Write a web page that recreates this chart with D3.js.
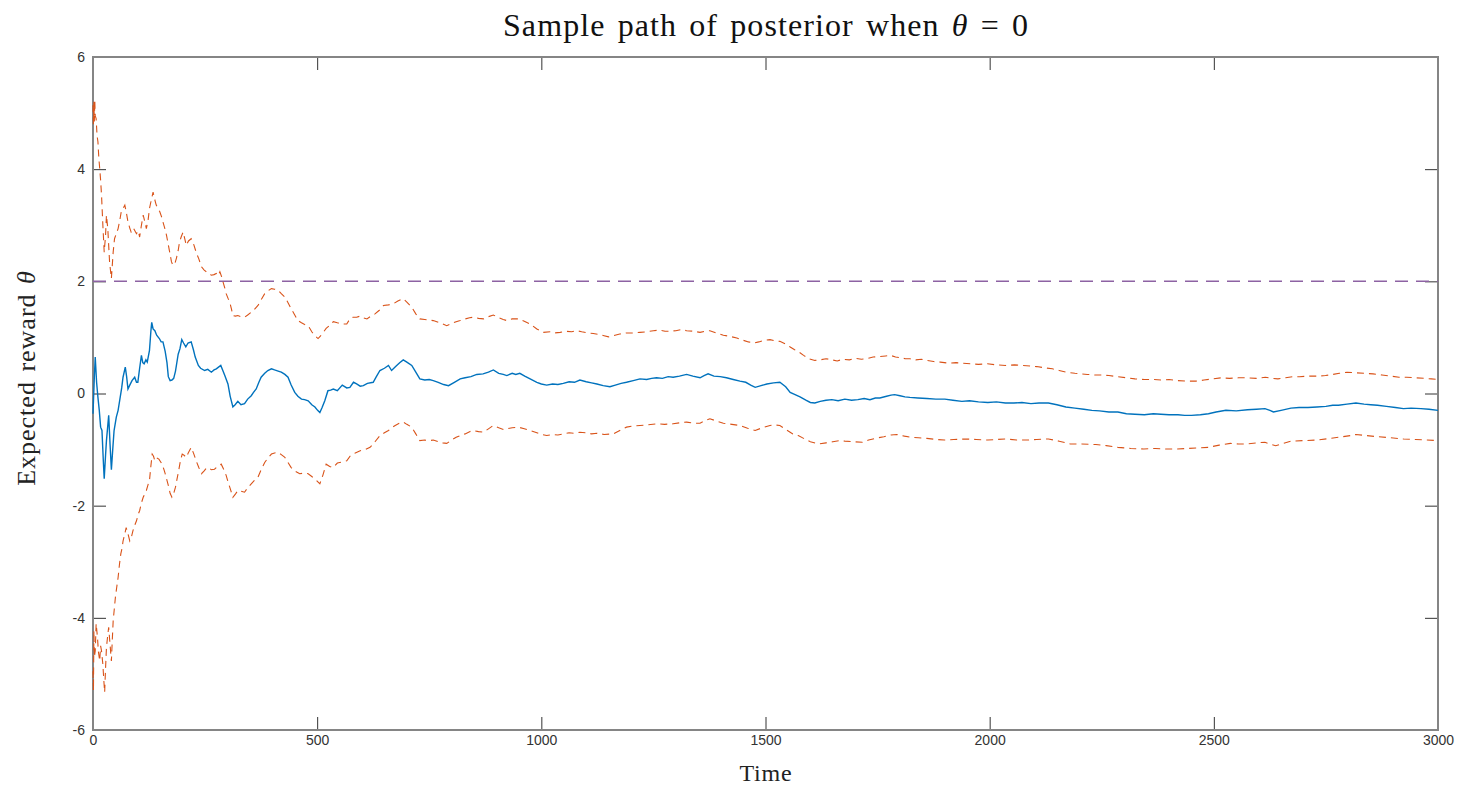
<!DOCTYPE html>
<html>
<head>
<meta charset="utf-8">
<script src="https://cdn.jsdelivr.net/npm/d3@7"></script>
<style>
  body { margin: 0; background: #fff; }
  .tick text { font-family: "Liberation Sans", Arial, sans-serif; font-size: 14px; fill: #333; }
</style>
</head>
<body>
<div id="chart"></div>
<script>
// values: [time, value]
var posteriorMean = [[0,-0.36],[3,0.3],[5,0.65],[8,0.2],[11,-0.07],[14,-0.3],[17,-0.6],[20,-0.66],[23,-1.2],[25,-1.52],[28,-1.1],[30,-0.84],[35,-0.39],[38,-0.9],[41,-1.36],[44,-1.0],[47,-0.66],[52,-0.42],[56,-0.3],[60,-0.1],[64,0.1],[67,0.29],[72,0.47],[75,0.3],[78,0.08],[82,0.15],[87,0.23],[93,0.29],[97,0.2],[100,0.2],[104,0.45],[108,0.68],[111,0.55],[114,0.53],[118,0.6],[121,0.56],[126,0.77],[129,1.1],[131,1.27],[134,1.15],[138,1.12],[142,1.04],[148,0.98],[152,0.92],[156,0.92],[161,0.75],[165,0.55],[168,0.3],[172,0.23],[176,0.24],[180,0.27],[184,0.4],[190,0.7],[194,0.8],[198,0.96],[202,0.9],[207,0.83],[212,0.9],[219,0.92],[224,0.78],[228,0.65],[235,0.5],[240,0.45],[249,0.41],[256,0.43],[264,0.38],[270,0.42],[275,0.44],[280,0.47],[285,0.5],[290,0.4],[294,0.32],[301,0.17],[306,-0.05],[312,-0.24],[317,-0.2],[323,-0.14],[330,-0.2],[338,-0.18],[345,-0.1],[353,-0.04],[358,0.02],[364,0.08],[370,0.2],[375,0.29],[383,0.36],[390,0.41],[398,0.44],[405,0.42],[413,0.4],[420,0.38],[428,0.34],[435,0.29],[442,0.15],[450,0.02],[457,-0.05],[465,-0.1],[472,-0.11],[480,-0.13],[488,-0.2],[495,-0.24],[501,-0.3],[506,-0.34],[511,-0.25],[517,-0.13],[524,0.05],[530,0.06],[536,0.08],[545,0.05],[556,0.15],[566,0.1],[573,0.11],[581,0.2],[588,0.17],[596,0.13],[603,0.14],[612,0.18],[625,0.2],[632,0.3],[640,0.41],[650,0.45],[659,0.5],[666,0.41],[675,0.48],[684,0.55],[692,0.6],[700,0.56],[711,0.5],[720,0.38],[729,0.26],[740,0.24],[750,0.25],[759,0.23],[770,0.2],[782,0.16],[793,0.14],[806,0.2],[819,0.26],[830,0.28],[843,0.3],[856,0.34],[870,0.35],[882,0.38],[893,0.42],[905,0.36],[915,0.34],[923,0.32],[935,0.36],[943,0.34],[952,0.36],[963,0.31],[975,0.26],[990,0.2],[1000,0.17],[1012,0.15],[1025,0.17],[1037,0.16],[1049,0.18],[1062,0.21],[1074,0.2],[1086,0.24],[1100,0.21],[1112,0.19],[1124,0.17],[1138,0.14],[1153,0.12],[1165,0.15],[1178,0.18],[1190,0.2],[1205,0.23],[1220,0.26],[1235,0.25],[1246,0.27],[1257,0.28],[1270,0.27],[1283,0.3],[1294,0.29],[1308,0.31],[1324,0.34],[1338,0.31],[1354,0.28],[1363,0.32],[1372,0.35],[1385,0.31],[1399,0.3],[1413,0.28],[1428,0.25],[1443,0.22],[1456,0.2],[1467,0.15],[1477,0.11],[1490,0.14],[1503,0.17],[1518,0.19],[1532,0.2],[1545,0.12],[1555,0.02],[1566,-0.02],[1577,-0.06],[1590,-0.12],[1600,-0.16],[1610,-0.17],[1622,-0.14],[1635,-0.12],[1648,-0.11],[1662,-0.13],[1677,-0.1],[1692,-0.12],[1706,-0.11],[1720,-0.09],[1733,-0.11],[1745,-0.08],[1755,-0.08],[1770,-0.05],[1780,-0.03],[1788,-0.02],[1800,-0.04],[1811,-0.06],[1822,-0.07],[1840,-0.08],[1860,-0.09],[1880,-0.1],[1900,-0.1],[1918,-0.12],[1938,-0.14],[1955,-0.13],[1975,-0.15],[1996,-0.16],[2015,-0.15],[2035,-0.17],[2054,-0.17],[2072,-0.16],[2092,-0.18],[2110,-0.17],[2131,-0.17],[2150,-0.2],[2170,-0.24],[2190,-0.26],[2210,-0.28],[2228,-0.3],[2245,-0.31],[2266,-0.33],[2286,-0.33],[2305,-0.36],[2324,-0.37],[2345,-0.38],[2365,-0.36],[2382,-0.37],[2400,-0.38],[2420,-0.38],[2435,-0.39],[2450,-0.39],[2470,-0.38],[2488,-0.36],[2505,-0.33],[2527,-0.3],[2550,-0.31],[2575,-0.29],[2595,-0.28],[2614,-0.27],[2625,-0.3],[2633,-0.33],[2650,-0.3],[2672,-0.26],[2690,-0.25],[2710,-0.25],[2730,-0.24],[2750,-0.23],[2765,-0.21],[2778,-0.21],[2797,-0.19],[2817,-0.17],[2835,-0.19],[2850,-0.2],[2865,-0.21],[2885,-0.23],[2905,-0.25],[2923,-0.27],[2940,-0.26],[2962,-0.27],[2980,-0.28],[3000,-0.3]];

var upperBound = [[0,5.14],[1,4.8],[2,5.2],[3,4.85],[4,5.23],[5,4.95],[7,4.9],[9,4.6],[11,4.49],[13,4.2],[15,4.01],[17,3.8],[19,3.54],[22,3.0],[25,2.52],[28,2.82],[30,3.18],[33,2.94],[37,2.34],[41,2.05],[45,2.52],[48,2.76],[52,2.85],[56,2.94],[60,3.1],[63,3.24],[67,3.3],[71,3.36],[75,3.2],[78,3.06],[82,2.95],[85,2.88],[90,2.95],[97,2.85],[101,2.9],[104,2.79],[108,3.0],[112,3.18],[116,3.05],[119,2.94],[123,3.1],[126,3.3],[130,3.45],[134,3.59],[138,3.45],[141,3.36],[145,3.3],[149,3.24],[153,3.15],[156,3.06],[160,2.95],[164,2.82],[168,2.65],[171,2.52],[175,2.35],[178,2.29],[182,2.3],[186,2.41],[190,2.55],[193,2.7],[197,2.8],[201,2.88],[205,2.75],[208,2.64],[213,2.72],[219,2.76],[225,2.65],[230,2.52],[236,2.4],[242,2.26],[248,2.2],[253,2.17],[258,2.14],[264,2.11],[270,2.12],[275,2.14],[279,2.1],[283,2.17],[287,2.08],[290,1.99],[294,1.88],[297,1.78],[301,1.7],[305,1.63],[309,1.5],[312,1.39],[318,1.38],[323,1.39],[330,1.37],[338,1.36],[345,1.4],[353,1.45],[360,1.5],[368,1.57],[375,1.67],[383,1.78],[390,1.83],[398,1.87],[405,1.86],[413,1.84],[420,1.78],[428,1.72],[435,1.62],[442,1.51],[450,1.4],[457,1.3],[465,1.26],[472,1.23],[480,1.21],[488,1.1],[495,1.03],[502,0.98],[510,1.05],[520,1.16],[529,1.22],[536,1.28],[545,1.26],[556,1.24],[566,1.24],[573,1.33],[580,1.36],[588,1.36],[596,1.38],[603,1.35],[611,1.33],[620,1.38],[629,1.42],[638,1.48],[648,1.57],[659,1.58],[670,1.6],[680,1.65],[692,1.69],[700,1.63],[711,1.54],[720,1.42],[729,1.33],[740,1.32],[750,1.31],[759,1.3],[770,1.27],[780,1.24],[789,1.21],[800,1.25],[810,1.28],[819,1.3],[830,1.33],[840,1.35],[848,1.36],[860,1.34],[871,1.33],[882,1.37],[893,1.4],[905,1.35],[915,1.32],[923,1.3],[935,1.33],[949,1.33],[962,1.29],[975,1.24],[990,1.15],[1004,1.09],[1020,1.1],[1030,1.08],[1042,1.09],[1055,1.11],[1068,1.1],[1079,1.12],[1090,1.1],[1104,1.08],[1116,1.07],[1130,1.05],[1140,1.03],[1150,1.01],[1160,1.03],[1175,1.06],[1190,1.08],[1205,1.08],[1220,1.09],[1235,1.1],[1250,1.12],[1265,1.13],[1276,1.11],[1287,1.11],[1300,1.12],[1312,1.14],[1324,1.12],[1340,1.11],[1354,1.09],[1366,1.11],[1376,1.12],[1390,1.08],[1406,1.04],[1420,1.02],[1436,0.99],[1450,0.95],[1462,0.92],[1473,0.9],[1485,0.92],[1497,0.95],[1510,0.96],[1520,0.94],[1532,0.93],[1545,0.88],[1555,0.83],[1565,0.78],[1573,0.75],[1585,0.68],[1597,0.62],[1610,0.59],[1622,0.6],[1635,0.62],[1648,0.6],[1660,0.58],[1672,0.61],[1687,0.6],[1700,0.63],[1714,0.61],[1726,0.62],[1740,0.65],[1755,0.66],[1768,0.67],[1779,0.68],[1790,0.65],[1800,0.64],[1812,0.62],[1822,0.62],[1835,0.6],[1848,0.61],[1861,0.59],[1875,0.57],[1890,0.56],[1909,0.54],[1925,0.55],[1940,0.54],[1957,0.53],[1975,0.52],[1995,0.53],[2015,0.51],[2035,0.5],[2055,0.51],[2073,0.5],[2090,0.49],[2105,0.48],[2121,0.46],[2140,0.44],[2155,0.41],[2170,0.38],[2190,0.36],[2205,0.35],[2218,0.34],[2235,0.33],[2250,0.33],[2266,0.32],[2285,0.3],[2305,0.28],[2324,0.26],[2345,0.25],[2365,0.25],[2382,0.24],[2400,0.25],[2420,0.23],[2440,0.22],[2460,0.22],[2478,0.24],[2497,0.26],[2517,0.28],[2535,0.27],[2555,0.28],[2575,0.28],[2595,0.27],[2615,0.29],[2630,0.27],[2643,0.26],[2660,0.28],[2676,0.3],[2691,0.3],[2710,0.31],[2730,0.31],[2749,0.32],[2765,0.34],[2780,0.36],[2797,0.38],[2815,0.37],[2835,0.36],[2855,0.35],[2875,0.33],[2895,0.31],[2913,0.29],[2930,0.29],[2951,0.28],[2970,0.27],[2985,0.26],[3000,0.25]];

var lowerBound = [[0,-4.95],[1,-5.3],[2,-4.23],[3,-4.7],[5,-4.59],[7,-4.1],[10,-4.35],[12,-4.6],[15,-4.77],[17,-4.5],[19,-4.59],[22,-4.83],[24,-5.1],[26,-5.33],[28,-4.9],[30,-4.53],[33,-4.3],[35,-4.17],[38,-4.47],[41,-4.77],[43,-4.4],[45,-4.05],[48,-3.8],[50,-3.63],[53,-3.45],[56,-3.28],[59,-3.05],[62,-2.86],[65,-2.75],[67,-2.63],[71,-2.5],[74,-2.39],[78,-2.5],[82,-2.63],[86,-2.55],[89,-2.45],[93,-2.35],[97,-2.27],[101,-2.15],[104,-2.09],[108,-1.95],[112,-1.85],[116,-1.78],[119,-1.73],[123,-1.62],[126,-1.55],[129,-1.3],[132,-1.08],[135,-1.12],[138,-1.2],[142,-1.15],[147,-1.17],[151,-1.22],[154,-1.26],[158,-1.35],[161,-1.43],[165,-1.55],[169,-1.67],[172,-1.78],[176,-1.85],[180,-1.78],[184,-1.67],[188,-1.5],[191,-1.38],[195,-1.2],[199,-1.08],[203,-1.1],[208,-1.14],[213,-1.05],[219,-0.96],[225,-1.08],[230,-1.2],[236,-1.32],[242,-1.43],[248,-1.38],[253,-1.33],[257,-1.32],[264,-1.36],[271,-1.35],[278,-1.3],[286,-1.26],[292,-1.36],[297,-1.46],[301,-1.57],[305,-1.67],[309,-1.77],[312,-1.85],[318,-1.79],[323,-1.73],[330,-1.74],[338,-1.76],[345,-1.68],[353,-1.61],[360,-1.55],[368,-1.49],[375,-1.36],[383,-1.23],[390,-1.15],[398,-1.08],[405,-1.06],[413,-1.05],[420,-1.09],[428,-1.14],[435,-1.23],[442,-1.32],[450,-1.38],[461,-1.43],[470,-1.42],[480,-1.43],[488,-1.48],[495,-1.52],[501,-1.57],[506,-1.61],[513,-1.45],[520,-1.26],[528,-1.3],[536,-1.32],[545,-1.24],[556,-1.22],[566,-1.2],[573,-1.12],[585,-1.06],[596,-1.02],[607,-1.0],[618,-0.96],[629,-0.86],[640,-0.75],[650,-0.7],[659,-0.66],[666,-0.61],[674,-0.57],[683,-0.53],[692,-0.51],[700,-0.55],[711,-0.6],[720,-0.72],[729,-0.84],[740,-0.83],[750,-0.84],[759,-0.83],[770,-0.86],[780,-0.88],[789,-0.89],[800,-0.83],[810,-0.78],[819,-0.75],[830,-0.72],[840,-0.68],[848,-0.66],[860,-0.68],[871,-0.69],[882,-0.63],[893,-0.57],[905,-0.61],[915,-0.64],[923,-0.63],[935,-0.61],[949,-0.6],[962,-0.63],[975,-0.66],[990,-0.7],[1000,-0.73],[1012,-0.75],[1025,-0.73],[1037,-0.74],[1049,-0.72],[1062,-0.7],[1074,-0.71],[1086,-0.69],[1100,-0.7],[1112,-0.72],[1124,-0.71],[1140,-0.73],[1161,-0.72],[1175,-0.66],[1190,-0.6],[1205,-0.58],[1220,-0.57],[1235,-0.56],[1257,-0.54],[1275,-0.55],[1294,-0.54],[1310,-0.52],[1324,-0.51],[1340,-0.53],[1354,-0.53],[1366,-0.48],[1376,-0.45],[1390,-0.49],[1406,-0.53],[1425,-0.55],[1443,-0.57],[1460,-0.62],[1477,-0.66],[1493,-0.61],[1510,-0.57],[1520,-0.56],[1532,-0.57],[1545,-0.64],[1555,-0.69],[1561,-0.72],[1573,-0.75],[1585,-0.8],[1600,-0.86],[1619,-0.9],[1635,-0.88],[1650,-0.86],[1665,-0.84],[1677,-0.85],[1695,-0.86],[1716,-0.87],[1730,-0.83],[1745,-0.8],[1764,-0.77],[1780,-0.74],[1793,-0.73],[1810,-0.76],[1825,-0.78],[1841,-0.79],[1860,-0.8],[1880,-0.82],[1899,-0.83],[1920,-0.82],[1948,-0.81],[1970,-0.82],[1996,-0.83],[2015,-0.82],[2035,-0.81],[2060,-0.83],[2083,-0.83],[2105,-0.82],[2131,-0.81],[2155,-0.85],[2180,-0.9],[2205,-0.9],[2237,-0.91],[2260,-0.93],[2286,-0.96],[2315,-0.98],[2344,-0.99],[2370,-0.98],[2392,-0.99],[2415,-0.99],[2440,-0.98],[2465,-0.97],[2488,-0.96],[2512,-0.92],[2537,-0.89],[2555,-0.9],[2575,-0.9],[2595,-0.88],[2614,-0.87],[2625,-0.9],[2638,-0.93],[2655,-0.89],[2672,-0.85],[2700,-0.84],[2730,-0.83],[2760,-0.8],[2788,-0.77],[2805,-0.75],[2817,-0.73],[2840,-0.75],[2865,-0.77],[2895,-0.79],[2923,-0.81],[2950,-0.82],[2975,-0.83],[3000,-0.84]];

var threshold = 2;
var xTicks = [0, 500, 1000, 1500, 2000, 2500, 3000];
var yTicks = [-6, -4, -2, 0, 2, 4, 6];

// chart setup
var svgWidth = 1461;
var svgHeight = 793;
var margin = { top: 57, right: 23, bottom: 63, left: 93 };
var width = svgWidth - margin.left - margin.right;
var height = svgHeight - margin.top - margin.bottom;

var svg = d3.select("#chart")
  .append("svg")
  .attr("width", svgWidth)
  .attr("height", svgHeight);

var chartGroup = svg.append("g")
  .attr("transform", `translate(${margin.left}, ${margin.top})`);

var xScale = d3.scaleLinear().domain([0, 3000]).range([0, width]);
var yScale = d3.scaleLinear().domain([-6, 6]).range([height, 0]);

var tickLen = 13;
var fmt = d => String(d);

// axes, ticks pointing inward (matlab style)
var bottomAxis = d3.axisBottom(xScale).tickValues(xTicks).tickSize(-tickLen).tickPadding(5).tickFormat(fmt);
var topAxis = d3.axisTop(xScale).tickValues(xTicks).tickSize(-tickLen).tickFormat("");
var leftAxis = d3.axisLeft(yScale).tickValues(yTicks).tickSize(-tickLen).tickPadding(8).tickFormat(fmt);
var rightAxis = d3.axisRight(yScale).tickValues(yTicks).tickSize(-tickLen).tickFormat("");

function styleAxis(g) {
  g.select(".domain").remove();
  g.selectAll(".tick line").attr("stroke", "#333").attr("stroke-width", 1);
}

chartGroup.append("g").attr("transform", `translate(0, ${height})`).call(bottomAxis).call(styleAxis);
chartGroup.append("g").call(topAxis).call(styleAxis);
chartGroup.append("g").call(leftAxis).call(styleAxis);
chartGroup.append("g").attr("transform", `translate(${width}, 0)`).call(rightAxis).call(styleAxis);

// box
chartGroup.append("rect")
  .attr("x", 0).attr("y", 0)
  .attr("width", width).attr("height", height)
  .attr("fill", "none")
  .attr("stroke", "#858585")
  .attr("stroke-width", 2);

var line = d3.line()
  .x(d => xScale(d[0]))
  .y(d => yScale(d[1]));

// threshold line
chartGroup.append("line")
  .attr("x1", xScale(0)).attr("x2", xScale(3000))
  .attr("y1", yScale(threshold)).attr("y2", yScale(threshold))
  .attr("stroke", "#8d62a3")
  .attr("stroke-width", 1.5)
  .attr("stroke-dasharray", "13,8");

// credible band
[upperBound, lowerBound].forEach(function(series) {
  chartGroup.append("path")
    .datum(series)
    .attr("d", line)
    .attr("fill", "none")
    .attr("stroke", "#D95319")
    .attr("stroke-width", 1.1)
    .attr("stroke-dasharray", "7,5");
});

// posterior mean
chartGroup.append("path")
  .datum(posteriorMean)
  .attr("d", line)
  .attr("fill", "none")
  .attr("stroke", "#0072BD")
  .attr("stroke-width", 1.4);

// title + labels
svg.append("text")
  .attr("x", 766)
  .attr("y", 36)
  .attr("text-anchor", "middle")
  .attr("font-family", "Liberation Serif, serif")
  .attr("font-size", 32)
  .attr("letter-spacing", 1.1)
  .attr("word-spacing", 3)
  .attr("fill", "#111")
  .html('Sample path of posterior when <tspan font-style="italic">θ</tspan> = 0');

svg.append("text")
  .attr("x", 766)
  .attr("y", 781)
  .attr("text-anchor", "middle")
  .attr("font-family", "Liberation Serif, serif")
  .attr("font-size", 24)
  .attr("letter-spacing", 0.8)
  .attr("fill", "#222")
  .text("Time");

svg.append("text")
  .attr("transform", "translate(35, 378) rotate(-90)")
  .attr("text-anchor", "middle")
  .attr("font-family", "Liberation Serif, serif")
  .attr("font-size", 26)
  .attr("letter-spacing", 1)
  .attr("word-spacing", 2)
  .attr("fill", "#222")
  .html('Expected reward <tspan font-style="italic">θ</tspan>');
</script>
</body>
</html>
